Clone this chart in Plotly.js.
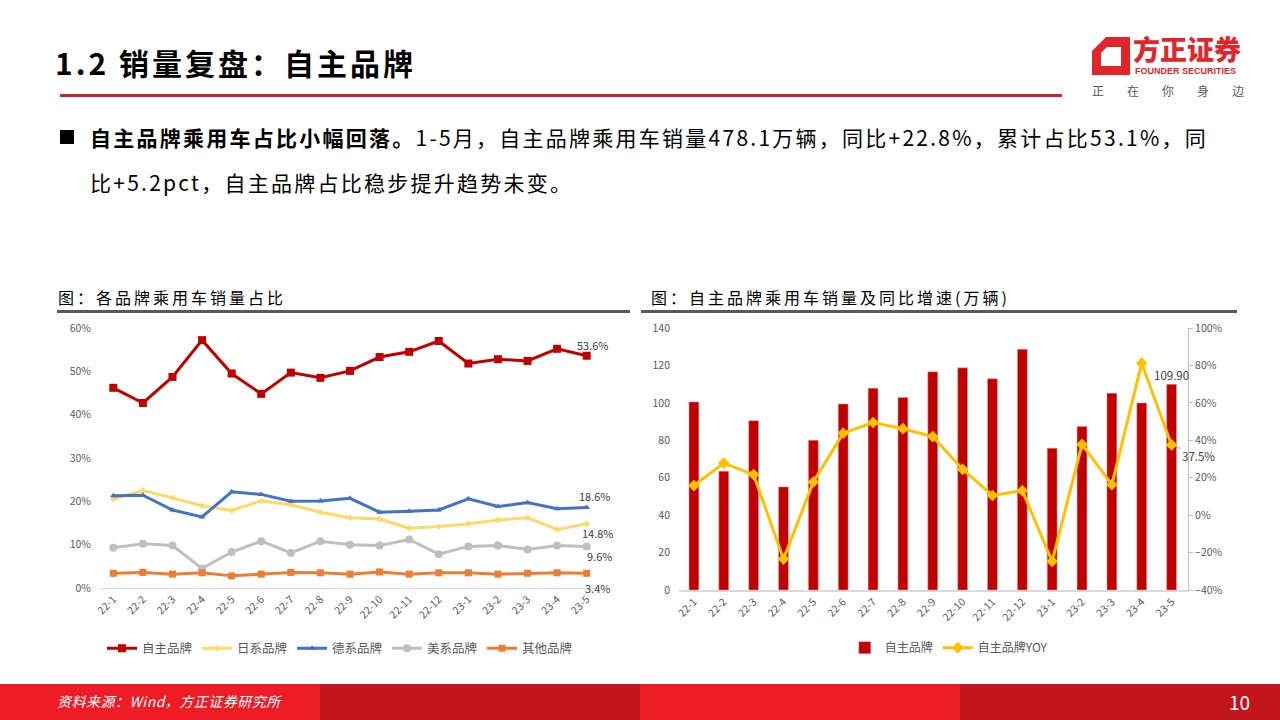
<!DOCTYPE html>
<html>
<head>
<meta charset="utf-8">
<script src="https://cdn.plot.ly/plotly-3.0.1.min.js"></script>
<style>
  body { margin: 0; width: 1280px; height: 720px; position: relative; overflow: hidden; background: #fff;
         font-family: "Noto Sans CJK SC", "Noto Sans", sans-serif; color: #000; }
  .abs { position: absolute; white-space: nowrap; }
  #head { left: 55px; top: 40px; font-size: 30px; font-weight: 700; letter-spacing: 3px; line-height: 44px; }
  #redline { left: 60px; top: 94px; width: 1002px; height: 3px; background: #d2232a; }
  #brand { left: 1133px; top: 35px; font-size: 27px; font-weight: 900; color: #e0262b; line-height: 28px; }
  #brandEn { left: 1135px; top: 66px; font-size: 9px; font-weight: 700; color: #e0262b; line-height: 11px;
             font-family: "Liberation Sans", Arial, sans-serif; }
  #slogan { left: 1092px; top: 82px; font-size: 12px; color: #595959; letter-spacing: 23px; }
  .txt { left: 90px; font-size: 21px; letter-spacing: 2.25px; line-height: 30px; }
  #bullet { left: 60px; top: 130px; width: 14px; height: 14px; background: #000; }
  .ctitle { top: 285px; font-size: 16px; letter-spacing: 3px; line-height: 24px; color: #000; }
  .cline { top: 310px; height: 3px; background: #595959; }
  #foot1 { left: 0; top: 684px; width: 320px; height: 36px; background: #ee1c25; }
  #foot2 { left: 320px; top: 684px; width: 320px; height: 36px; background: #c3161c; }
  #foot3 { left: 640px; top: 684px; width: 320px; height: 36px; background: #ee1c25; }
  #foot4 { left: 960px; top: 684px; width: 320px; height: 36px; background: #c3161c; }
  #src { left: 57px; top: 691px; font-size: 14px; color: #fff; font-style: italic; letter-spacing: 0.5px; }
  #page { left: 1229px; top: 688px; font-size: 19px; color: #fff; }
  #chartL { left: 40px; top: 315px; width: 600px; height: 360px; }
  #chartR { left: 640px; top: 315px; width: 600px; height: 360px; }
</style>
</head>
<body>
<div class="abs" id="head">1.2 销量复盘：自主品牌</div>
<div class="abs" id="redline"></div>

<svg class="abs" style="left:1090px;top:36px" width="42" height="42" viewBox="0 0 42 42">
  <polygon points="16,1 40,1 40,39 2,39 2,15" fill="#e0262b"/>
  <polygon points="17,11 31,11 31,30 11,30 11,17" fill="#fff"/>
</svg>
<div class="abs" id="brand">方正证券</div>
<div class="abs" id="brandEn">FOUNDER SECURITIES</div>
<div class="abs" id="slogan">正在你身边</div>

<div class="abs" id="bullet"></div>
<div class="abs txt" style="top:122px"><b>自主品牌乘用车占比小幅回落。</b>1-5月，自主品牌乘用车销量478.1万辆，同比+22.8%，累计占比53.1%，同</div>
<div class="abs txt" style="top:167px">比+5.2pct，自主品牌占比稳步提升趋势未变。</div>

<div class="abs ctitle" style="left:58px">图：各品牌乘用车销量占比</div>
<div class="abs ctitle" style="left:651px">图：自主品牌乘用车销量及同比增速(万辆)</div>
<div class="abs cline" style="left:57px;width:573px"></div>
<div class="abs cline" style="left:641px;width:596px"></div>

<div class="abs" id="chartL"></div>
<div class="abs" id="chartR"></div>

<div class="abs" id="foot1"></div>
<div class="abs" id="foot2"></div>
<div class="abs" id="foot3"></div>
<div class="abs" id="foot4"></div>
<div class="abs" id="src">资料来源：Wind，方正证券研究所</div>
<div class="abs" id="page">10</div>

<script>
// months shared by both charts
const months = ['22-1', '22-2', '22-3', '22-4', '22-5', '22-6', '22-7', '22-8', '22-9',
  '22-10', '22-11', '22-12', '23-1', '23-2', '23-3', '23-4', '23-5'];

// left chart: share by brand group (%)
const shareOwn = [46.2, 42.7, 48.7, 57.2, 49.5, 44.8, 49.7, 48.5, 50.1, 53.3, 54.5, 57.0, 51.8, 52.8, 52.4, 55.2, 53.6];
const shareJapan = [20.5, 22.5, 20.8, 19.0, 17.9, 20.1, 19.2, 17.5, 16.2, 15.9, 13.8, 14.2, 14.8, 15.7, 16.2, 13.5, 14.8];
const shareGerman = [21.3, 21.4, 18.0, 16.4, 22.2, 21.6, 20.0, 20.1, 20.7, 17.5, 17.7, 18.0, 20.6, 18.8, 19.7, 18.3, 18.6];
const shareUS = [9.3, 10.2, 9.8, 4.5, 8.3, 10.8, 8.1, 10.8, 10.0, 9.8, 11.2, 7.8, 9.6, 9.8, 8.9, 9.8, 9.6];
const shareOther = [3.4, 3.6, 3.2, 3.5, 2.8, 3.2, 3.6, 3.5, 3.2, 3.7, 3.2, 3.5, 3.5, 3.2, 3.4, 3.5, 3.4];

// right chart: own-brand volume (10k units) and YoY (%)
const ownSales = [100.5, 63.5, 90.5, 55.1, 80.0, 99.4, 107.8, 102.9, 116.6, 118.7, 112.9, 128.6, 75.8, 87.3, 105.2, 99.9, 109.9];
const ownYoy = [15.8, 27.8, 21.7, -23.5, 17.7, 43.8, 49.5, 46.2, 42.0, 24.5, 10.5, 13.1, -24.7, 37.8, 16.3, 81.2, 37.5];

const font = 'Noto Sans CJK SC, Noto Sans, sans-serif';
const tickFont = { family: font, size: 10.5, color: '#595959' };
const config = { displayModeBar: false, staticPlot: true };

// ---- left chart
const series = [
  { name: '自主品牌', y: shareOwn, color: '#c00000', symbol: 'square', size: 8, shift: [6, 11] },
  { name: '日系品牌', y: shareJapan, color: '#ffd966', symbol: 'diamond', size: 5, shift: [11, -9] },
  { name: '德系品牌', y: shareGerman, color: '#4472c4', symbol: 'triangle-up', size: 6, shift: [8, 11] },
  { name: '美系品牌', y: shareUS, color: '#bfbfbf', symbol: 'circle', size: 8, shift: [13, -10] },
  { name: '其他品牌', y: shareOther, color: '#ed7d31', symbol: 'square', size: 7, shift: [11, -15] }
];

const leftTraces = series.map(s => ({
  x: months,
  y: s.y,
  name: s.name,
  type: 'scatter',
  mode: 'lines+markers',
  line: { color: s.color, width: 3 },
  marker: { color: s.color, symbol: s.symbol, size: s.size }
}));

const last = months.length - 1;
const leftNotes = series.map(s => ({
  x: months[last], y: s.y[last], xref: 'x', yref: 'y',
  text: s.y[last].toFixed(1) + '%', showarrow: false,
  xshift: s.shift[0], yshift: s.shift[1],
  font: { family: font, size: 11, color: '#404040' }
}));

Plotly.newPlot('chartL', leftTraces, {
  width: 600, height: 360,
  margin: { l: 60, r: 40, t: 13, b: 85 },
  paper_bgcolor: 'rgba(0,0,0,0)', plot_bgcolor: 'rgba(0,0,0,0)',
  font: { family: font },
  showlegend: true,
  legend: { orientation: 'h', x: 0.48, xanchor: 'center', y: -0.233, yanchor: 'middle',
    font: { family: font, size: 12.5, color: '#595959' }, itemwidth: 30 },
  xaxis: { type: 'category', range: [-0.45, 16.45], tickangle: -45, tickfont: tickFont,
    showgrid: false, showline: true, linecolor: '#d9d9d9', linewidth: 1, ticks: '', zeroline: false },
  yaxis: { range: [0, 60], dtick: 10, ticksuffix: '%', tickfont: tickFont, showgrid: false,
    zeroline: false, showline: false, ticks: '', ticklabelstandoff: 8 },
  annotations: leftNotes
}, config);

// ---- right chart
Plotly.newPlot('chartR', [
  {
    x: months, y: ownSales, name: '自主品牌', type: 'bar',
    marker: { color: '#c00000', line: { color: '#e8a0a0', width: 0.5 } },
    width: 0.33
  },
  {
    x: months, y: ownYoy, name: '自主品牌YOY', type: 'scatter', mode: 'lines+markers', yaxis: 'y2',
    line: { color: '#ffc000', width: 3 },
    marker: { color: '#ffc000', symbol: 'diamond', size: 9 }
  }
], {
  width: 600, height: 360,
  margin: { l: 39, r: 52, t: 13, b: 85 },
  paper_bgcolor: 'rgba(0,0,0,0)', plot_bgcolor: 'rgba(0,0,0,0)',
  font: { family: font },
  showlegend: true,
  legend: { orientation: 'h', x: 0.53, xanchor: 'center', y: -0.22, yanchor: 'middle',
    font: { family: font, size: 12, color: '#595959' } },
  xaxis: { type: 'category', range: [-0.5, 16.55], tickangle: -45, tickfont: tickFont,
    showgrid: false, showline: true, linecolor: '#d9d9d9', linewidth: 1.5, ticks: '', zeroline: false },
  yaxis: { range: [0, 140], dtick: 20, tickfont: tickFont, showgrid: false, zeroline: false, ticks: '',
    ticklabelstandoff: 8 },
  yaxis2: { range: [-40, 100], dtick: 20, ticksuffix: '%', overlaying: 'y', side: 'right',
    tickfont: tickFont, showgrid: false, zeroline: false, showline: true, linecolor: '#bfbfbf',
    ticks: 'outside', ticklen: 4, tickcolor: '#bfbfbf' },
  annotations: [
    { x: months[last], y: ownSales[last], xref: 'x', yref: 'y', text: ownSales[last].toFixed(2),
      showarrow: false, yshift: 9, font: { family: font, size: 11.5, color: '#404040' } },
    { x: months[last], y: ownYoy[last], xref: 'x', yref: 'y2', text: ownYoy[last].toFixed(1) + '%',
      showarrow: true, arrowhead: 0, arrowwidth: 1, arrowcolor: '#a6a6a6', ax: 27, ay: 11,
      xanchor: 'center', standoff: 2, font: { family: font, size: 11.5, color: '#404040' } }
  ]
}, config);
</script>
</body>
</html>
